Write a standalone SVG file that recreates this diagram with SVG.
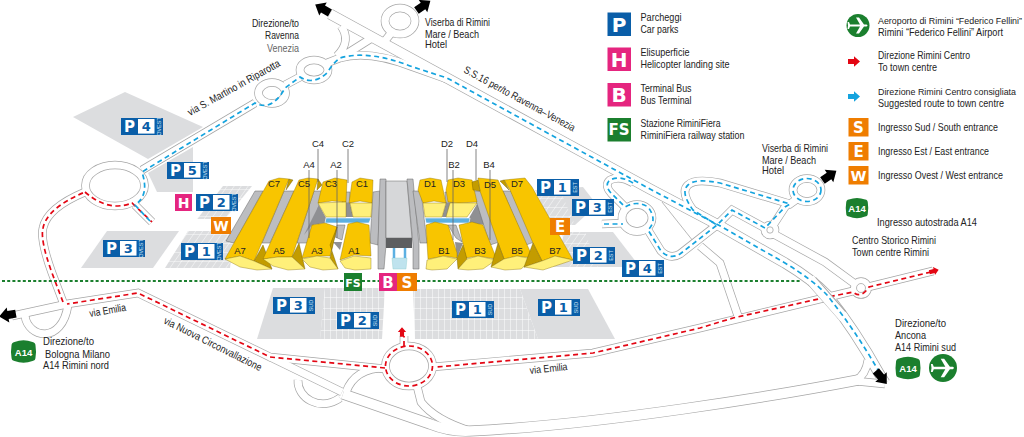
<svg xmlns="http://www.w3.org/2000/svg" xmlns:xlink="http://www.w3.org/1999/xlink" width="1024" height="437" viewBox="0 0 1024 437">
<style>
text{font-family:"Liberation Sans Narrow","Liberation Sans",Arial,sans-serif;fill:#222}
.t{font-size:10.5px}
.g{fill:#666}
.hl{font-size:9.5px;text-anchor:middle}
.pk{font-family:"DejaVu Sans",sans-serif;font-size:15px;font-weight:bold;fill:#fff;text-anchor:middle}
.pn{font-family:"DejaVu Sans",sans-serif;font-size:13px;font-weight:bold;fill:#0a5ea8;text-anchor:middle}
.ps{font-size:5.5px;fill:#cfe6f7;text-anchor:middle}
.ent{font-family:"DejaVu Sans",sans-serif;font-weight:bold;fill:#fff;text-anchor:middle}
.a14{font-family:"Liberation Sans",sans-serif;font-weight:bold;fill:#fff;text-anchor:middle;font-size:9.5px}
.ew,.en,.fw,.fn,.ow,.oe{fill:none}
.ew,.oe{stroke:#a6a6a6;stroke-width:11}
.en{stroke:#a6a6a6;stroke-width:8.6}
.fw,.ow{stroke:#fff;stroke-width:9.6}
.fn{stroke:#fff;stroke-width:7.2}
.red{fill:none;stroke:#e30613;stroke-width:1.7;stroke-dasharray:5 3.5}
.blue{fill:none;stroke:#14a3de;stroke-width:1.7;stroke-dasharray:5 3.5}
.rail{fill:none;stroke:#1b7f2e;stroke-width:2;stroke-dasharray:3 2.2}
.pa{fill:#dcdddf}
.hw{fill:url(#hw)}
.hs{fill:url(#hs)}
.au{fill:#f8c500;stroke:#8a7000;stroke-width:.4}
.ad{fill:#c39c00;stroke:#6e5a00;stroke-width:.4}
.ap{fill:#fff07a;stroke:#8a7000;stroke-width:.4}
.gl{fill:#bcbdc0;stroke:#666;stroke-width:.5}
.gd{fill:#8f9093}
.gw{fill:#d6d7d9;stroke:#666;stroke-width:.5}
.cor{fill:#5cb0e2;stroke:#fff;stroke-width:.6}
.ld{fill:none;stroke:#666;stroke-width:.8}
.thin{fill:none;stroke:#a6a6a6;stroke-width:.8}
</style>
<defs>
<pattern id="hw" width="7" height="9" patternUnits="userSpaceOnUse" patternTransform="skewX(-35)"><rect width="7" height="9" fill="#dcdddf"/><path d="M0 0H7M0 0V9" stroke="#fff" stroke-width="1"/></pattern>
<pattern id="hs" width="6" height="11" patternUnits="userSpaceOnUse"><rect width="6" height="11" fill="#dcdddf"/><path d="M0 0H6M0 0V11" stroke="#fff" stroke-width="1"/></pattern>
<g id="pb"><rect width="42" height="17" fill="#0a5ea8"/><rect x="17" y="1" width="16.5" height="14.6" fill="#fff"/><text class="pk" x="8.5" y="14.2">P</text></g>
<path id="ba" d="M-8 -4L0 -4L0 -7.5L9 0L0 7.5L0 4L-8 4Z" fill="#000"/>
<path id="sa" d="M-6 -2.6L0 -2.6L0 -5.2L6 0L0 5.2L0 2.6L-6 2.6Z"/>
<path id="hx" d="M-12 -6Q-12 -9 -9 -9.5Q0 -13 9 -9.5Q12 -9 12 -6Q13 0 12 6Q12 9 9 9.5Q0 13 -9 9.5Q-12 9 -12 6Q-13 0 -12 -6Z" fill="#1b7f2e"/>
<path id="pl" d="M-8 -1L2 -1L-2 -8L1 -8L6 -1L8.5 -1Q10.5 0 8.5 1L6 1L1 8L-2 8L2 1L-8 1L-9 3.5L-10.5 3.5L-10 0L-10.5 -3.5L-9 -3.5Z" fill="#fff"/>
<g id="rw">
<path d="M330 14L553 136L650 189L722 227L785 263Q813 280 827 295Q855 330 880 375L885 383"/>
<path d="M343 394L430 424Q450 432 470 431C600 425 780 395 858 380"/>
</g>
<g id="rn">
<path d="M12 316L67 304L138 293L270 357L386 369"/>
<path d="M432 367L593 353L700 328L853 291M868 287L933 271"/>
<path d="M63 302L52 273Q40 240 43 228Q47 208 85 192"/>
<path d="M25 316C28 338 62 345 68 305"/>
<path d="M270 357L342 392M298 380C297 398 320 412 340 398"/>
<path d="M385 368C365 368 352 376 346 392"/>
<path d="M417 386L421 402Q435 420 470 431"/>
<path d="M855 381Q866 375 868 360M855 381L885 384"/>
<path d="M404 345L404 336"/>
<path d="M135 205L152 222M142 170L255 103M285 85L300 77"/>
<path d="M327 63L340 58C360 52 385 56 413 67L447 79"/>
<path d="M341 26C347 34 348 45 337 56M340 58L375 36M384 42L392 32"/>
<path d="M633 183Q620 175 610 180Q604 185 611 193L625 207M602 224L625 223"/>
<path d="M648 230L661 251Q670 260 680 254L717 225L732 210L765 228M770 230L785 207L790 202"/>
<path d="M717 225L693 210Q680 192 688 185Q695 178 720 183L790 204L797 199"/>
<path d="M700 246L720 263L738 316M770 232L825 262L855 284"/>
<ellipse cx="115" cy="185.5" rx="29.5" ry="20.5"/>
<ellipse cx="272" cy="93" rx="13.5" ry="10.5"/>
<ellipse cx="314" cy="70" rx="14" ry="10"/>
<ellipse cx="400" cy="21" rx="15" ry="13"/>
<ellipse cx="637" cy="218" rx="15" ry="13.5"/>
<ellipse cx="807" cy="190" rx="14" ry="11.5"/>
<ellipse cx="409" cy="366" rx="23.5" ry="20"/>
<circle cx="770" cy="230" r="5"/>
<circle cx="861" cy="288" r="6.5"/>
</g>
</defs>

<g id="parking-areas">
<polygon class="pa" points="73,117 125,92 203,127 148,159"/>
<polygon class="pa" points="148,173 157,192 193,192 193,147"/>
<polygon class="pa" points="107,231 179,231 153,268 81,268"/>
<polygon class="hw" points="223,186 252,186 225,219 197,219"/>
<polygon class="hw" points="188,231 235,231 230,268 165,268"/>
<polygon class="pa" points="273,288 325,288 320,339 257,339"/>
<polygon class="hs" points="325,288 385,288 382,339 320,339"/>
<polygon class="hs" points="413,289 520,289 538,339 415,339"/>
<polygon class="pa" points="520,289 588,289 615,339 538,339"/>
<polygon class="pa" points="540,190 583,187 597,205 575,225 560,225"/>
<polygon class="hw" points="535,190 560,190 575,225 552,225"/>
<polygon class="pa" points="565,232 613,232 640,267 553,267"/>
<polygon class="hw" points="562,232 585,232 598,267 567,267"/>
</g>

<g id="connectors">
<use href="#rw" class="ew"/><use href="#rn" class="en"/>
<path class="thin" d="M662 202L697 246"/>
<use href="#rw" class="fw"/><use href="#rn" class="fn"/>
<circle cx="770" cy="230" r="3.2" fill="#fff" stroke="#a6a6a6" stroke-width=".8"/>
<circle cx="861" cy="288" r="4.5" fill="#fff" stroke="#a6a6a6" stroke-width=".8"/>
<path class="red" d="M931 272L869 287Q861 299 853 292L823 298L733 318L700 328L593 353L437 367"/>
<ellipse class="red" cx="409" cy="366" rx="23.5" ry="20"/>
<path class="red" d="M404 346L404 336"/>
<path class="red" d="M385 368L270 357L138 293L67 304"/>
<path class="red" d="M63 302L52 273Q40 240 43 228Q47 208 85 192"/>
<path class="red" d="M85 192Q100 205 115 206Q125 206 132 203L152 222"/>
<path class="oe" d="M812 281L842 315"/><path class="ow" d="M810 279L844 318"/>
<path class="blue" d="M150 221L135 205C145 198 147 188 142 172L255 103Q272 112 285 88L300 77Q313 86 328 72Q332 64 340 58C360 52 385 56 413 67L447 78L553 136L650 189L722 227L785 263Q813 280 827 295Q855 330 878 370"/>
<path class="blue" d="M633 183Q620 175 610 180Q604 185 611 193L625 207Q637 200 648 207Q658 220 648 230L661 251Q670 260 680 254L717 225L732 210L765 228L785 207L790 204L720 183Q695 178 688 185Q680 192 693 210L717 225"/>
<path class="blue" d="M604 224L623 224"/>
<ellipse class="blue" cx="807" cy="190" rx="14" ry="11.5"/>
<path class="rail" d="M2 281H344M362 281H379M417 281H800"/>
<use href="#ba" transform="translate(323,9) rotate(-150)"/>
<use href="#ba" transform="translate(423,6) rotate(-35)"/>
<use href="#ba" transform="translate(829,176) rotate(-35)"/>
<use href="#ba" transform="translate(881,377) rotate(50)"/>
<use href="#ba" transform="translate(8,315) rotate(170)"/>
<use href="#sa" fill="#e30613" transform="translate(402,332) rotate(-90) scale(.8)"/>
<use href="#sa" fill="#e30613" transform="translate(934,271) rotate(-14) scale(.8)"/>
</g>

<g id="halls">
<polygon class="gl" points="255,191 263,191 234,243 226,241"/>
<polygon class="gl" points="284,191 294,191 270,243 262,243"/>
<polygon class="gl" points="314,191 323,191 308,243 297,243"/>
<polygon class="gd" points="319,205 326,218 325,223 312,225 304,235"/>
<polygon class="gd" points="308,238 318,226 312,245"/>
<polygon class="gl" points="345,192 350,192 350,203 342,203"/>
<polygon class="gd" points="342,203 350,203 353,217 346,217"/>
<polygon class="gl" points="337,225 345,225 342,240 335,237"/>
<polygon class="gd" points="333,242 342,242 340,250"/>
<polygon class="gl" points="445,192 450,192 453,203 446,203"/>
<polygon class="gd" points="446,203 453,203 447,217 442,217"/>
<polygon class="gl" points="448,225 456,225 462,242 456,238"/>
<polygon class="gd" points="455,242 463,243 457,258"/>
<polygon class="gd" points="477,204 469,218 469,223 486,225 478,205"/>
<polygon class="gl" points="473,191 481,191 499,242 490,245"/>
<polygon class="gl" points="503,191 511,191 534,242 526,245"/>
<polygon class="gl" points="373,192 380,191 378,245 370,243"/>
<polygon class="gl" points="380,179 386,179 386,245 384,269 378,269 378,245"/>
<polygon class="gw" points="386,181 407,181 412,238 386,238"/>
<rect x="386" y="238" width="26" height="10" fill="#5d5e60"/>
<polygon class="gl" points="407,179 413,179 419,245 419,269 413,269 413,245"/>
<polygon class="gl" points="413,191 421,191 427,243 420,243"/>
<polygon points="392,258 407,258 406,269 393,269" fill="#bfe3ee" stroke="#8cc" stroke-width=".4"/>
<path d="M394 248V258M405 248V258" stroke="#5cb0e2" stroke-width="2.5" fill="none"/>
<polygon class="cor" points="326,218 371,218 369,223 325,223"/>
<polygon class="cor" points="425,218 470,218 469,223 426,223"/>

<polygon class="au" points="269,181 279,178 289,179 254,261 240,256 225,259"/>
<polygon class="ad" points="289,179 293,180 286,190"/>
<polygon class="ad" points="263,245 272,269 254,261"/>
<polygon class="ap" points="225,259 240,256 254,261 272,269 257,270 240,267"/>
<polygon class="au" points="299,180 308,178 318,179 292,257 278,257 263,259"/>
<polygon class="ad" points="318,179 322,185 317,190"/>
<polygon class="ad" points="299,243 305,269 292,257"/>
<polygon class="ap" points="263,259 278,257 292,257 305,269 288,270 273,266"/>
<polygon class="au" points="323,182 335,178 347,180 346,202 332,201 318,203"/>
<polygon class="ap" points="318,203 346,202 346,217 326,217"/>
<polygon class="au" points="352,182 360,178 373,180 372,203 360,201 349,203"/>
<polygon class="ap" points="350,203 372,203 371,217 353,217"/>
<polygon class="au" points="312,225 325,223 337,227 330,256 317,256 302,258"/>
<polygon class="ad" points="337,227 330,245 338,269 330,258"/>
<polygon class="ap" points="302,259 317,256 330,258 338,269 323,270 310,267"/>
<polygon class="au" points="348,224 357,222 369,225 371,256 354,255 340,260"/>
<polygon class="ap" points="340,261 354,256 371,258 371,269 355,270 345,268"/>

<polygon class="au" points="420,180 430,178 441,180 446,203 434,201 423,203 418,190"/>
<polygon class="ap" points="423,203 446,203 442,217 425,217"/>
<polygon class="au" points="448,180 458,178 472,180 477,202 458,203 448,202 446,190"/>
<polygon class="ap" points="450,203 477,203 467,217 446,217"/>
<polygon class="au" points="426,225 435,222 448,225 457,253 457,258 445,256 428,259"/>
<polygon class="ap" points="427,260 443,256 457,259 447,269 432,270 426,269"/>
<polygon class="au" points="459,225 472,222 483,225 495,255 496,259 478,256 466,258"/>
<polygon class="ad" points="463,245 467,259 458,269 457,258"/>
<polygon class="ap" points="467,259 478,256 496,260 483,269 468,270 458,269"/>
<polygon class="au" points="478,178 498,180 533,258 517,256 504,259 498,243 480,191"/>
<polygon class="ad" points="472,182 478,180 480,191 473,190"/>
<polygon class="ad" points="498,243 504,259 491,267"/>
<polygon class="ap" points="504,259 517,256 533,259 521,269 505,270 491,267"/>
<polygon class="au" points="504,180 525,178 532,187 573,260 555,256 542,261 533,243 510,190"/>
<polygon class="ad" points="500,181 504,180 509,190"/>
<polygon class="ad" points="533,243 542,261 524,267"/>
<polygon class="ap" points="542,261 555,256 573,260 558,265 543,270 524,267"/>

<path class="ld" d="M318 149V182M348 149V183M309 170V238M337 170V238M447 149V182M476 149V180M453 170V240M490 170V240"/>
<text class="hl" x="318" y="147">C4</text><text class="hl" x="348" y="147">C2</text>
<text class="hl" x="309" y="168">A4</text><text class="hl" x="336" y="168">A2</text>
<text class="hl" x="447" y="147">D2</text><text class="hl" x="472" y="147">D4</text>
<text class="hl" x="454" y="168">B2</text><text class="hl" x="489" y="168">B4</text>
<text class="hl" x="274" y="187">C7</text><text class="hl" x="304" y="187">C5</text><text class="hl" x="331" y="187">C3</text><text class="hl" x="362" y="187">C1</text>
<text class="hl" x="240" y="254">A7</text><text class="hl" x="279" y="254">A5</text><text class="hl" x="317" y="254">A3</text><text class="hl" x="354" y="254">A1</text>
<text class="hl" x="430" y="187">D1</text><text class="hl" x="459" y="187">D3</text><text class="hl" x="490" y="188">D5</text><text class="hl" x="517" y="187">D7</text>
<text class="hl" x="444" y="254">B1</text><text class="hl" x="480" y="254">B3</text><text class="hl" x="517" y="254">B5</text><text class="hl" x="555" y="254">B7</text>
</g>

<g id="p4-ovest" transform="translate(121,118)"><use href="#pb"/><text class="pn" x="25.2" y="13.2">4</text><text class="ps" transform="translate(39.6,8.5) rotate(-90)">OVEST</text></g>
<g id="p5-ovest" transform="translate(167,162)"><use href="#pb"/><text class="pn" x="25.2" y="13.2">5</text><text class="ps" transform="translate(39.6,8.5) rotate(-90)">OVEST</text></g>
<g id="p2-ovest" transform="translate(196,194)"><use href="#pb"/><text class="pn" x="25.2" y="13.2">2</text><text class="ps" transform="translate(39.6,8.5) rotate(-90)">OVEST</text></g>
<g id="p1-ovest" transform="translate(181,243)"><use href="#pb"/><text class="pn" x="25.2" y="13.2">1</text><text class="ps" transform="translate(39.6,8.5) rotate(-90)">OVEST</text></g>
<g id="p3-ovest" transform="translate(103,240)"><use href="#pb"/><text class="pn" x="25.2" y="13.2">3</text><text class="ps" transform="translate(39.6,8.5) rotate(-90)">OVEST</text></g>
<g id="p1-est" transform="translate(537,179)"><use href="#pb"/><text class="pn" x="25.2" y="13.2">1</text><text class="ps" transform="translate(39.6,8.5) rotate(-90)">EST</text></g>
<g id="p3-est" transform="translate(572,199)"><use href="#pb"/><text class="pn" x="25.2" y="13.2">3</text><text class="ps" transform="translate(39.6,8.5) rotate(-90)">EST</text></g>
<g id="p2-est" transform="translate(573,247)"><use href="#pb"/><text class="pn" x="25.2" y="13.2">2</text><text class="ps" transform="translate(39.6,8.5) rotate(-90)">EST</text></g>
<g id="p4-est" transform="translate(622,260)"><use href="#pb"/><text class="pn" x="25.2" y="13.2">4</text><text class="ps" transform="translate(39.6,8.5) rotate(-90)">EST</text></g>
<g id="p3-sud" transform="translate(273,297)"><use href="#pb"/><text class="pn" x="25.2" y="13.2">3</text><text class="ps" transform="translate(39.6,8.5) rotate(-90)">SUD</text></g>
<g id="p2-sud" transform="translate(337,312)"><use href="#pb"/><text class="pn" x="25.2" y="13.2">2</text><text class="ps" transform="translate(39.6,8.5) rotate(-90)">SUD</text></g>
<g id="p1-sud-a" transform="translate(452,301)"><use href="#pb"/><text class="pn" x="25.2" y="13.2">1</text><text class="ps" transform="translate(39.6,8.5) rotate(-90)">SUD</text></g>
<g id="p1-sud-b" transform="translate(538,299)"><use href="#pb"/><text class="pn" x="25.2" y="13.2">1</text><text class="ps" transform="translate(39.6,8.5) rotate(-90)">SUD</text></g>

<g id="map-h"><rect x="175" y="194" width="17" height="17" fill="#e5257f"/><text class="ent" x="183.5" y="207.5" font-size="14">H</text></g>
<g id="map-w"><rect x="211" y="217" width="20" height="17" fill="#ef7d00"/><text class="ent" x="221" y="231" font-size="14">W</text></g>
<g id="map-e"><rect x="550" y="218" width="20" height="17" fill="#ef7d00"/><text class="ent" x="560" y="232" font-size="15">E</text></g>
<g id="map-fs"><rect x="344" y="273" width="18" height="18" fill="#1b7f2e"/><text class="ent" x="353" y="286.5" font-size="11">FS</text></g>
<g id="map-b"><rect x="379" y="273" width="18" height="18" fill="#e5257f"/><text class="ent" x="388" y="287.5" font-size="15">B</text></g>
<g id="map-s"><rect x="397" y="273" width="20" height="18" fill="#ef7d00"/><text class="ent" x="407" y="287.5" font-size="15">S</text></g>

<g id="road-labels">
<text class="t" transform="translate(190,116) rotate(-29)" textLength="104" lengthAdjust="spacingAndGlyphs">via S. Martino in Riparotta</text>
<text class="t" transform="translate(463,72) rotate(28.5)" textLength="125" lengthAdjust="spacingAndGlyphs">S.S.16 per/to Ravenna–Venezia</text>
<text class="t" transform="translate(90,317) rotate(-10)" textLength="37" lengthAdjust="spacingAndGlyphs">via Emilia</text>
<text class="t" transform="translate(163,323) rotate(26.5)" textLength="108" lengthAdjust="spacingAndGlyphs">via Nuova Circonvallazione</text>
<text class="t" transform="translate(530,374) rotate(-6)" textLength="38" lengthAdjust="spacingAndGlyphs">via Emilia</text>
</g>

<g id="dir-ravenna">
<text class="t" x="252" y="27" textLength="47" lengthAdjust="spacingAndGlyphs">Direzione/to</text>
<text class="t" x="265" y="39" textLength="34" lengthAdjust="spacingAndGlyphs">Ravenna</text>
<text class="t g" x="267" y="52" textLength="32" lengthAdjust="spacingAndGlyphs">Venezia</text>
</g>
<g id="dir-viserba-top">
<text class="t" x="425" y="26" textLength="65" lengthAdjust="spacingAndGlyphs">Viserba di Rimini</text>
<text class="t" x="425" y="38" textLength="54" lengthAdjust="spacingAndGlyphs">Mare / Beach</text>
<text class="t" x="425" y="48" textLength="22" lengthAdjust="spacingAndGlyphs">Hotel</text>
</g>
<g id="dir-viserba-east">
<text class="t" x="762" y="152" textLength="66" lengthAdjust="spacingAndGlyphs">Viserba di Rimini</text>
<text class="t" x="762" y="164" textLength="54" lengthAdjust="spacingAndGlyphs">Mare / Beach</text>
<text class="t" x="762" y="174" textLength="22" lengthAdjust="spacingAndGlyphs">Hotel</text>
</g>
<g id="dir-centro">
<text class="t" x="852" y="244" textLength="84" lengthAdjust="spacingAndGlyphs">Centro Storico Rimini</text>
<text class="t" x="852" y="256" textLength="77" lengthAdjust="spacingAndGlyphs">Town centre Rimini</text>
</g>
<g id="dir-ancona">
<text class="t" x="895" y="327" textLength="51" lengthAdjust="spacingAndGlyphs">Direzione/to</text>
<text class="t" x="895" y="339" textLength="31" lengthAdjust="spacingAndGlyphs">Ancona</text>
<text class="t" x="895" y="351" textLength="61" lengthAdjust="spacingAndGlyphs">A14 Rimini sud</text>
<use href="#hx" transform="translate(908,368)"/><text class="a14" x="908" y="372">A14</text>
<circle cx="943" cy="368" r="14" fill="#1b7f2e"/><use href="#pl" transform="translate(943,368) scale(1.15)"/>
</g>
<g id="dir-bologna">
<use href="#hx" transform="translate(23.5,351.5)"/><text class="a14" x="23.5" y="355.5">A14</text>
<text class="t" x="43" y="345" textLength="51" lengthAdjust="spacingAndGlyphs">Direzione/to</text>
<text class="t" x="45" y="358" textLength="65" lengthAdjust="spacingAndGlyphs">Bologna Milano</text>
<text class="t" x="43" y="369" textLength="66" lengthAdjust="spacingAndGlyphs">A14 Rimini nord</text>
</g>

<g id="legend-p"><rect x="607.5" y="12.5" width="23.5" height="23.5" fill="#0a5ea8"/><text class="ent" x="619" y="32" font-size="20">P</text><text class="t" x="640.5" y="21" textLength="41" lengthAdjust="spacingAndGlyphs">Parcheggi</text><text class="t" x="640.5" y="33" textLength="38" lengthAdjust="spacingAndGlyphs">Car parks</text></g>
<g id="legend-h"><rect x="607.5" y="47.5" width="23.5" height="23.5" fill="#e5257f"/><text class="ent" x="619" y="66.5" font-size="20">H</text><text class="t" x="640.5" y="56" textLength="49" lengthAdjust="spacingAndGlyphs">Elisuperficie</text><text class="t" x="640.5" y="68" textLength="89" lengthAdjust="spacingAndGlyphs">Helicopter landing site</text></g>
<g id="legend-b"><rect x="607.5" y="83" width="23.5" height="23.5" fill="#e5257f"/><text class="ent" x="619" y="102" font-size="20">B</text><text class="t" x="640.5" y="92" textLength="51" lengthAdjust="spacingAndGlyphs">Terminal Bus</text><text class="t" x="640.5" y="103.5" textLength="51" lengthAdjust="spacingAndGlyphs">Bus Terminal</text></g>
<g id="legend-fs"><rect x="607.5" y="118" width="23.5" height="23.5" fill="#1b7f2e"/><text class="ent" x="619" y="135" font-size="15">FS</text><text class="t" x="640.5" y="127" textLength="80" lengthAdjust="spacingAndGlyphs">Stazione RiminiFiera</text><text class="t" x="640.5" y="139" textLength="104" lengthAdjust="spacingAndGlyphs">RiminiFiera railway station</text></g>
<g id="legend-airport"><circle cx="858" cy="25.5" r="11.5" fill="#1b7f2e"/><use href="#pl" transform="translate(858,25.5)"/><text class="t" style="font-size:9px" x="878" y="24" textLength="144" lengthAdjust="spacingAndGlyphs">Aeroporto di Rimini “Federico Fellini”</text><text class="t" x="878" y="36" textLength="125" lengthAdjust="spacingAndGlyphs">Rimini “Federico Fellini” Airport</text></g>
<g id="legend-red"><use href="#sa" fill="#e30613" transform="translate(854,61.5)"/><text class="t" x="878" y="59" textLength="92" lengthAdjust="spacingAndGlyphs">Direzione Rimini Centro</text><text class="t" x="878" y="71" textLength="59" lengthAdjust="spacingAndGlyphs">To town centre</text></g>
<g id="legend-blue"><use href="#sa" fill="#14a3de" transform="translate(854,96.5)"/><text class="t" style="font-size:9.3px" x="878" y="95" textLength="138" lengthAdjust="spacingAndGlyphs">Direzione Rimini Centro consigliata</text><text class="t" x="878" y="107" textLength="126" lengthAdjust="spacingAndGlyphs">Suggested route to town centre</text></g>
<g id="legend-s"><rect x="848.5" y="118" width="20" height="18.5" fill="#ef7d00"/><text class="ent" x="858.5" y="133" font-size="15">S</text><text class="t" x="878" y="131" textLength="120" lengthAdjust="spacingAndGlyphs">Ingresso Sud / South entrance</text></g>
<g id="legend-e"><rect x="848.5" y="142" width="20" height="18.5" fill="#ef7d00"/><text class="ent" x="858.5" y="157" font-size="15">E</text><text class="t" x="878" y="155" textLength="111" lengthAdjust="spacingAndGlyphs">Ingresso Est / East entrance</text></g>
<g id="legend-w"><rect x="848.5" y="166" width="20" height="18.5" fill="#ef7d00"/><text class="ent" x="858.5" y="181" font-size="14.5">W</text><text class="t" x="878" y="178.5" textLength="125" lengthAdjust="spacingAndGlyphs">Ingresso Ovest / West entrance</text></g>
<g id="legend-a14"><use href="#hx" transform="translate(857,208) scale(.9)"/><text class="a14" x="857" y="211.5" font-size="9">A14</text><text class="t" x="877" y="225.5" textLength="100" lengthAdjust="spacingAndGlyphs">Ingresso autostrada A14</text></g>
</svg>
